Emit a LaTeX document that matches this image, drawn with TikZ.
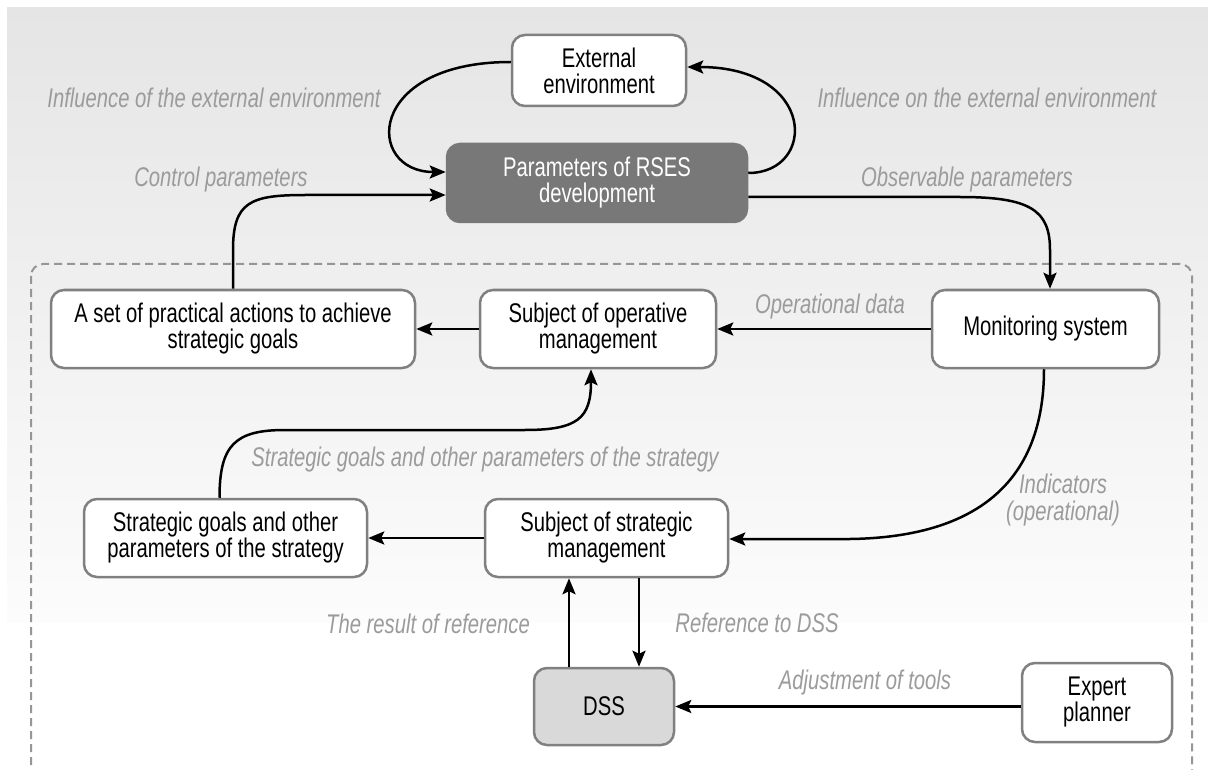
\documentclass[tikz,border=0pt]{standalone}
\usepackage{fontspec}
\setmainfont{Liberation Sans}[FakeStretch=0.75]
\usetikzlibrary{arrows.meta,calc}
\definecolor{boxborder}{RGB}{128,128,128}
\definecolor{darkfill}{RGB}{120,120,120}
\definecolor{dssfill}{RGB}{217,217,217}
\definecolor{lbl}{RGB}{155,155,155}
\definecolor{bgtop}{RGB}{229,229,229}
\definecolor{bgbot}{RGB}{252,252,252}
\definecolor{dashc}{RGB}{150,150,150}
\begin{document}
\begin{tikzpicture}[x=1pt,y=-1pt,
  box/.style={draw=boxborder, line width=2.5pt, rounded corners=13pt, fill=white,
    align=center, inner sep=0pt, font=\fontsize{27}{26}\selectfont},
  lab/.style={text=lbl, font=\fontsize{27}{26.5}\selectfont\itshape, align=center, inner sep=0pt},
  arr/.style={line width=2.5pt, -{Stealth[length=16pt,width=13pt,inset=3pt]}},
]
\useasboundingbox (0,0) rectangle (1208,770);
\clip (0,0) rectangle (1208,770);
\fill[white] (0,0) rectangle (1208,770);
\shade[top color=bgtop, bottom color=bgbot] (7,8) rectangle (1208,622);
\draw[dashc, line width=2pt, dash pattern=on 8pt off 5pt, rounded corners=12pt] (31,264) rectangle (1192,790);

% nodes
\node[box, minimum width=174pt, minimum height=71pt] (ex) at (599,70.5) {External\\environment};
\node[box, fill=darkfill, text=white, draw=darkfill, minimum width=300pt, minimum height=78pt] (pr) at (597,183) {Parameters of RSES\\development};
\node[box, minimum width=364pt, minimum height=78pt] (pa) at (233,329) {A set of practical actions to achieve\\strategic goals};
\node[box, minimum width=236pt, minimum height=78pt] (op) at (598,329) {Subject of operative\\management};
\node[box, minimum width=227pt, minimum height=78pt] (mon) at (1045.5,329) {Monitoring system};
\node[box, minimum width=283pt, minimum height=78pt] (sg) at (225.5,538) {Strategic goals and other\\parameters of the strategy};
\node[box, minimum width=243pt, minimum height=78pt] (sm) at (606.5,538) {Subject of strategic\\management};
\node[box, fill=dssfill, minimum width=140pt, minimum height=77pt] (dss) at (604,706.5) {DSS};
\node[box, minimum width=150pt, minimum height=79pt] (xp) at (1097,702.5) {Expert\\planner};

% labels
\node[lab] (l1) at (214,98) {Influence of the external environment};
\node[lab] (l2) at (987,98) {Influence on the external environment};
\node[lab] (l3) at (221,180) {Control parameters};
\node[lab] (l4) at (967,180) {Observable parameters};
\node[lab] (l5) at (830,307) {Operational data};
\node[lab] (l6) at (485,460) {Strategic goals and other parameters of the strategy};
\node[lab] (l7) at (1063,500) {Indicators\\(operational)};
\node[lab] (l8) at (428,624) {The result of reference};
\node[lab] (l9) at (757,623) {Reference to DSS};
\node[lab] (l10) at (865,683) {Adjustment of tools};

% connectors
\draw[arr] ([yshift=8.5pt]ex.west) .. controls (365,62) and (365,172) .. ([yshift=11pt]pr.west);
\draw[arr] ([yshift=10pt]pr.east) .. controls (817,173) and (817,67) .. ([yshift=3.5pt]ex.east);
\draw[arr] (pa.north) -- (233,250) .. controls (233,202) and (250,195) .. (305,195) -- ([yshift=-12pt]pr.west);
\draw[arr] ([yshift=-14pt]pr.east) -- (960,197) .. controls (1030,197) and (1050,210) .. (1050,250) -- ([xshift=4.5pt]mon.north);
\draw[arr] (op.west) -- (pa.east);
\draw[arr] (mon.west) -- (op.east);
\draw[arr] ([xshift=-6pt]sg.north) .. controls (219.5,445) and (235,430) .. (285,430) -- (525,430) .. controls (578,430) and (591,418) .. ([xshift=-7pt]op.south);
\draw[arr] ([xshift=-1.5pt]mon.south) .. controls (1044,470) and (990,537) .. (850,539) -- ([yshift=-1pt]sm.east);
\draw[arr] (sm.west) -- (sg.east);
\draw[arr] ([xshift=-35pt]dss.north) -- ([xshift=-35pt]dss.north |- sm.south);
\draw[arr] ([xshift=35pt]dss.north |- sm.south) -- ([xshift=35pt]dss.north);
\draw[arr] (xp.west |- dss.east) -- (dss.east);
\end{tikzpicture}
\end{document}
